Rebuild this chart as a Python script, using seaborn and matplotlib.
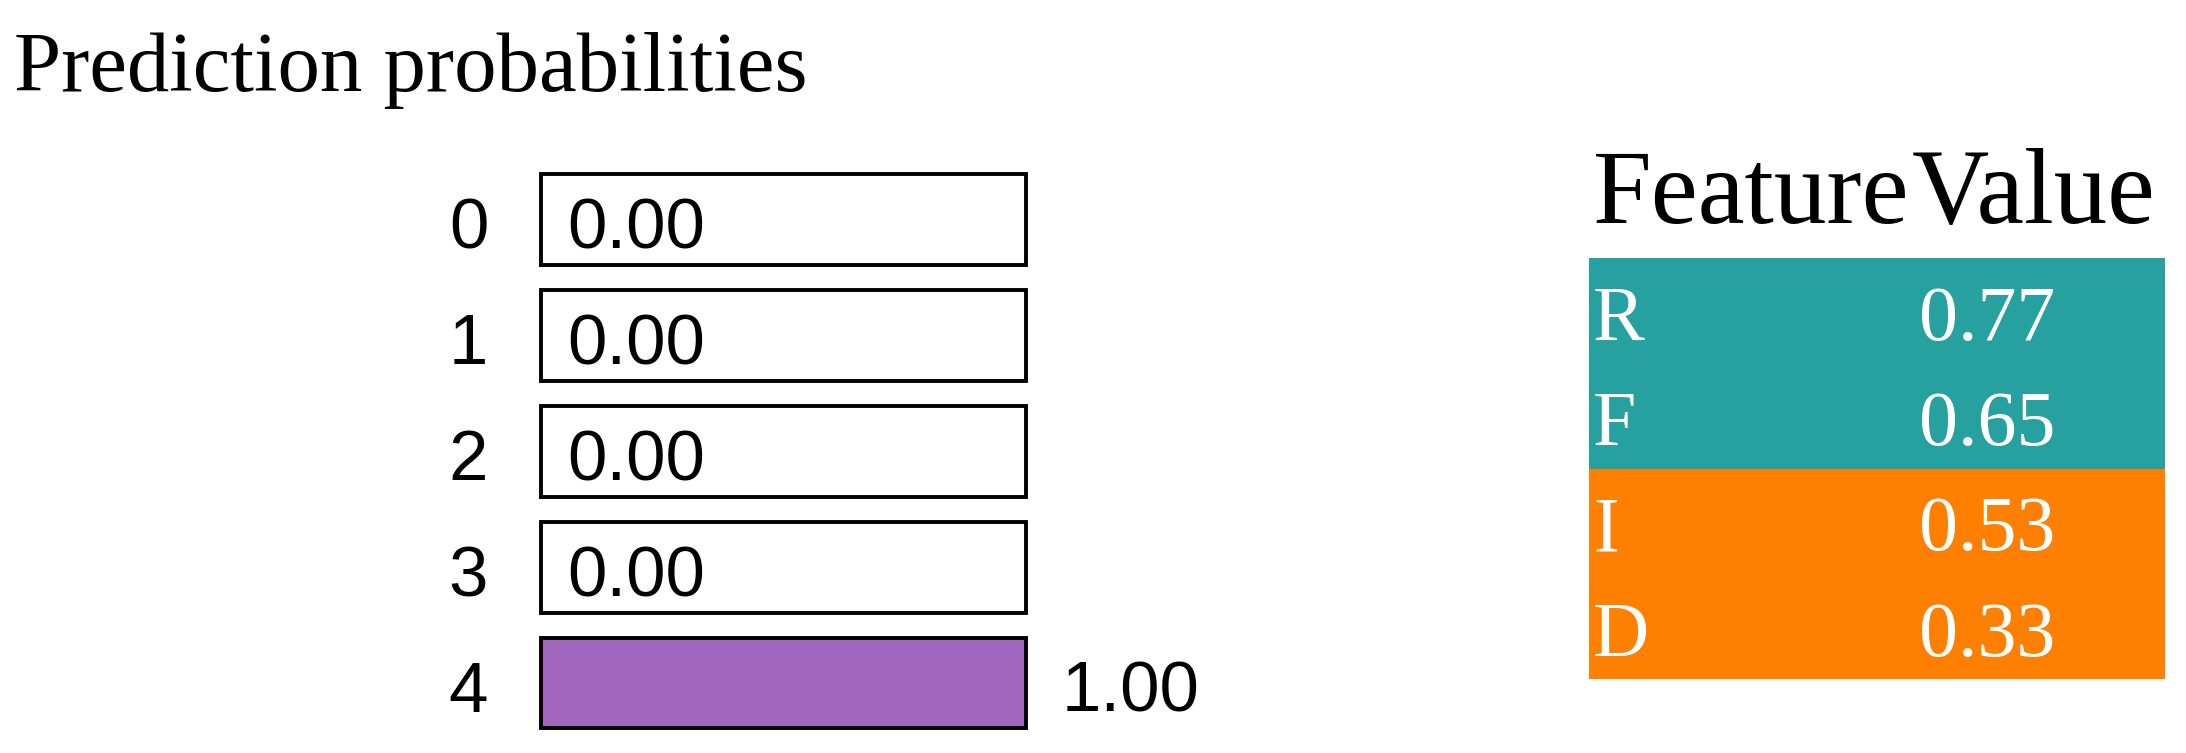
import matplotlib
matplotlib.use("Agg")
import matplotlib.pyplot as plt
import seaborn as sns
import pandas as pd

# ---- data ----
classes = ["0", "1", "2", "3", "4"]
probs = [0.00, 0.00, 0.00, 0.00, 1.00]
prob_colors = ["#ffffff", "#ffffff", "#ffffff", "#ffffff", "#a066bd"]

features = ["R", "F", "I", "D"]
feature_values = [0.77, 0.65, 0.53, 0.33]
feature_side = ["pos", "pos", "neg", "neg"]
side_colors = {"pos": "#27a0a0", "neg": "#ff8000"}

title = "Prediction probabilities"
table_headers = ["Feature", "Value"]

# ---- style ----
sns.set_theme(style="white")
plt.rcParams["font.family"] = ["Liberation Sans", "DejaVu Sans"]
plt.rcParams["text.color"] = "black"

W, H = 2186, 753
DPI = 100
fig = plt.figure(figsize=(W / DPI, H / DPI), dpi=DPI)
fig.patch.set_facecolor("white")

def fx(px):
    return px / W

def fy(py):
    return 1 - py / H

# ---- probability bars ----
pitch = 115.9
c0, c4 = 219.5, 683.0
ax = fig.add_axes([fx(541), fy(c4 + pitch / 2), fx(1026) - fx(541), (c4 - c0 + pitch) / H])
df = pd.DataFrame({"cls": classes, "p": probs})
sns.barplot(data=df, x="p", y="cls", hue="cls", palette=prob_colors, legend=False,
            orient="h", width=0.785, saturation=1, ax=ax, edgecolor="none", linewidth=0)
# outline frames
ax.barh(range(len(classes)), [1.0] * len(classes), height=0.785, facecolor="none",
        edgecolor="black", linewidth=2.8, clip_on=False, zorder=5)
ax.set_xlim(0, 1)
ax.set_ylim(len(classes) - 0.5, -0.5)
ax.set_xlabel("")
ax.set_ylabel("")
ax.set_xticks([])
ax.set_yticks([])
for s in ax.spines.values():
    s.set_visible(False)
ax.patch.set_alpha(0)
base_off = 0.25
for i, (c, v) in enumerate(zip(classes, probs)):
    ax.text(-0.109, i + base_off, c, va="baseline", ha="right", fontsize=51,
            color="black", clip_on=False)
    off = 0.074 if v >= 0.999 else 0.055
    ax.text(v + off, i + base_off, f"{v:.2f}", va="baseline", ha="left", fontsize=51,
            color="black", clip_on=False, zorder=6)

# ---- title ----
fig.text(fx(14), fy(91), title, family=["Liberation Serif", "DejaVu Serif"],
         fontsize=61, va="baseline", ha="left", color="black")

# ---- feature table ----
tx0, tx1 = 1589, 2165
ty0, ty1 = 258, 679
tax = fig.add_axes([fx(tx0), fy(ty1), fx(tx1) - fx(tx0), (ty1 - ty0) / H])
n = len(features)
tax.barh(range(n), [1.0] * n, height=1.0, left=0,
         color=[side_colors[s] for s in feature_side], linewidth=0)
tax.set_xlim(0, 1)
tax.set_ylim(n - 0.5, -0.5)
tax.axis("off")
for i, (f, v) in enumerate(zip(features, feature_values)):
    tax.text(0.007, i + 0.10, f, family=["Liberation Serif"], fontsize=56, color="white",
             va="center", ha="left")
    tax.text(0.573, i + 0.10, f"{v:.2f}", family=["Liberation Serif"], fontsize=56,
             color="white", va="center", ha="left")

fig.text(fx(1593), fy(223), table_headers[0], family=["Liberation Serif"], fontsize=76,
         va="baseline", ha="left", color="black")
fig.text(fx(1912), fy(223), table_headers[1], family=["Liberation Serif"], fontsize=77,
         va="baseline", ha="left", color="black")

fig.savefig("out.png", dpi=DPI, facecolor="white")
